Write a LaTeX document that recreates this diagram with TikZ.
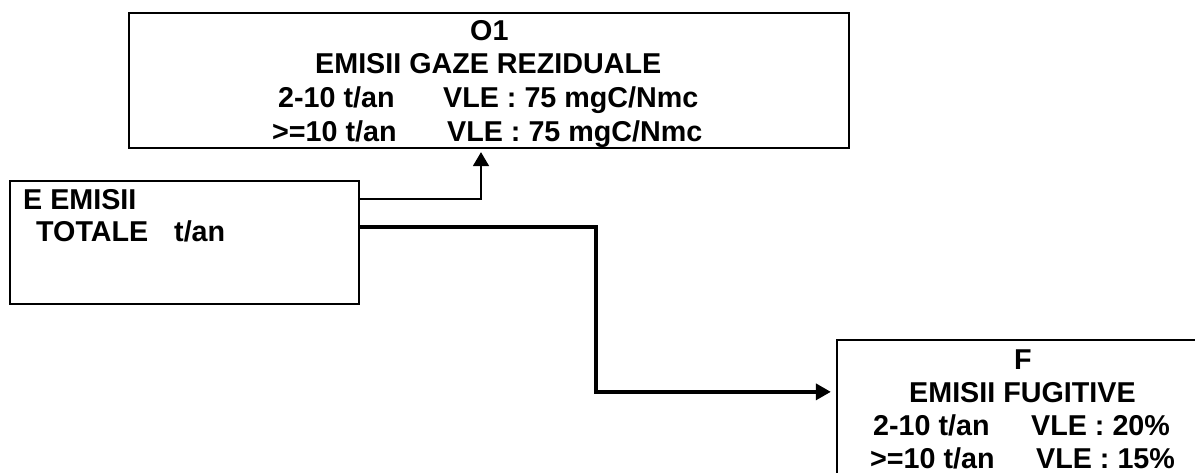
\documentclass[tikz,border=0pt]{standalone}
\usepackage{fontspec}
\setmainfont{Liberation Sans}
\usetikzlibrary{arrows.meta}
\begin{document}
\begin{tikzpicture}[x=1pt,y=-1pt,
  boxshape/.style={draw=black,line width=2.3pt,rectangle,inner sep=0pt,fill=none},
  txt/.style={anchor=base west,inner sep=0pt,font=\fontsize{28.7}{33}\selectfont\bfseries},
  thinconn/.style={draw=black,line width=1.8pt,-{Triangle[width=16pt,length=14pt]},shorten >=3pt},
  thickconn/.style={draw=black,line width=3.5pt,-{Triangle[width=16pt,length=15pt]},shorten >=5pt}]
\useasboundingbox (0,0) rectangle (1195,473);
\fill[white] (0,0) rectangle (1195,473);
% boxes
\node[boxshape,minimum width=720pt,minimum height=135.3pt] (o1) at (489,80.35) {};
\node[boxshape,minimum width=349pt,minimum height=123pt] (e) at (184.5,242.5) {};
\node[boxshape,minimum width=372pt,minimum height=160pt] (f) at (1023,420) {};
% texts in O1
\node[txt] (o1a) at (470,40.5) {O1};
\node[txt] (o1b) at (315,74) {EMISII GAZE REZIDUALE};
\node[txt] (o1c) at (278,108) {2-10 t/an};
\node[txt] (o1d) at (443,108) {VLE : 75 mgC/Nmc};
\node[txt] (o1e) at (272,141.5) {>=10 t/an};
\node[txt] (o1f) at (447,141.5) {VLE : 75 mgC/Nmc};
% texts in E
\node[txt] (ea) at (23,210) {E EMISII};
\node[txt] (eb) at (36,242) {TOTALE};
\node[txt] (ec) at (174,242) {t/an};
% texts in F
\node[txt] (fa) at (1014,369) {F};
\node[txt] (fb) at (909,402) {EMISII FUGITIVE};
\node[txt] (fc) at (873,435) {2-10 t/an};
\node[txt] (fd) at (1031,435) {VLE : 20\%};
\node[txt] (fe) at (870,468) {>=10 t/an};
\node[txt] (ff) at (1036,468) {VLE : 15\%};
% connectors
\draw[thinconn] ([yshift=-19pt]e.north east) -| ([xshift=-8pt]o1.south);
\draw[thickconn] ([yshift=-47pt]e.north east) -- ++(236,0) |- ([yshift=-53pt]f.north west);
\end{tikzpicture}
\end{document}
